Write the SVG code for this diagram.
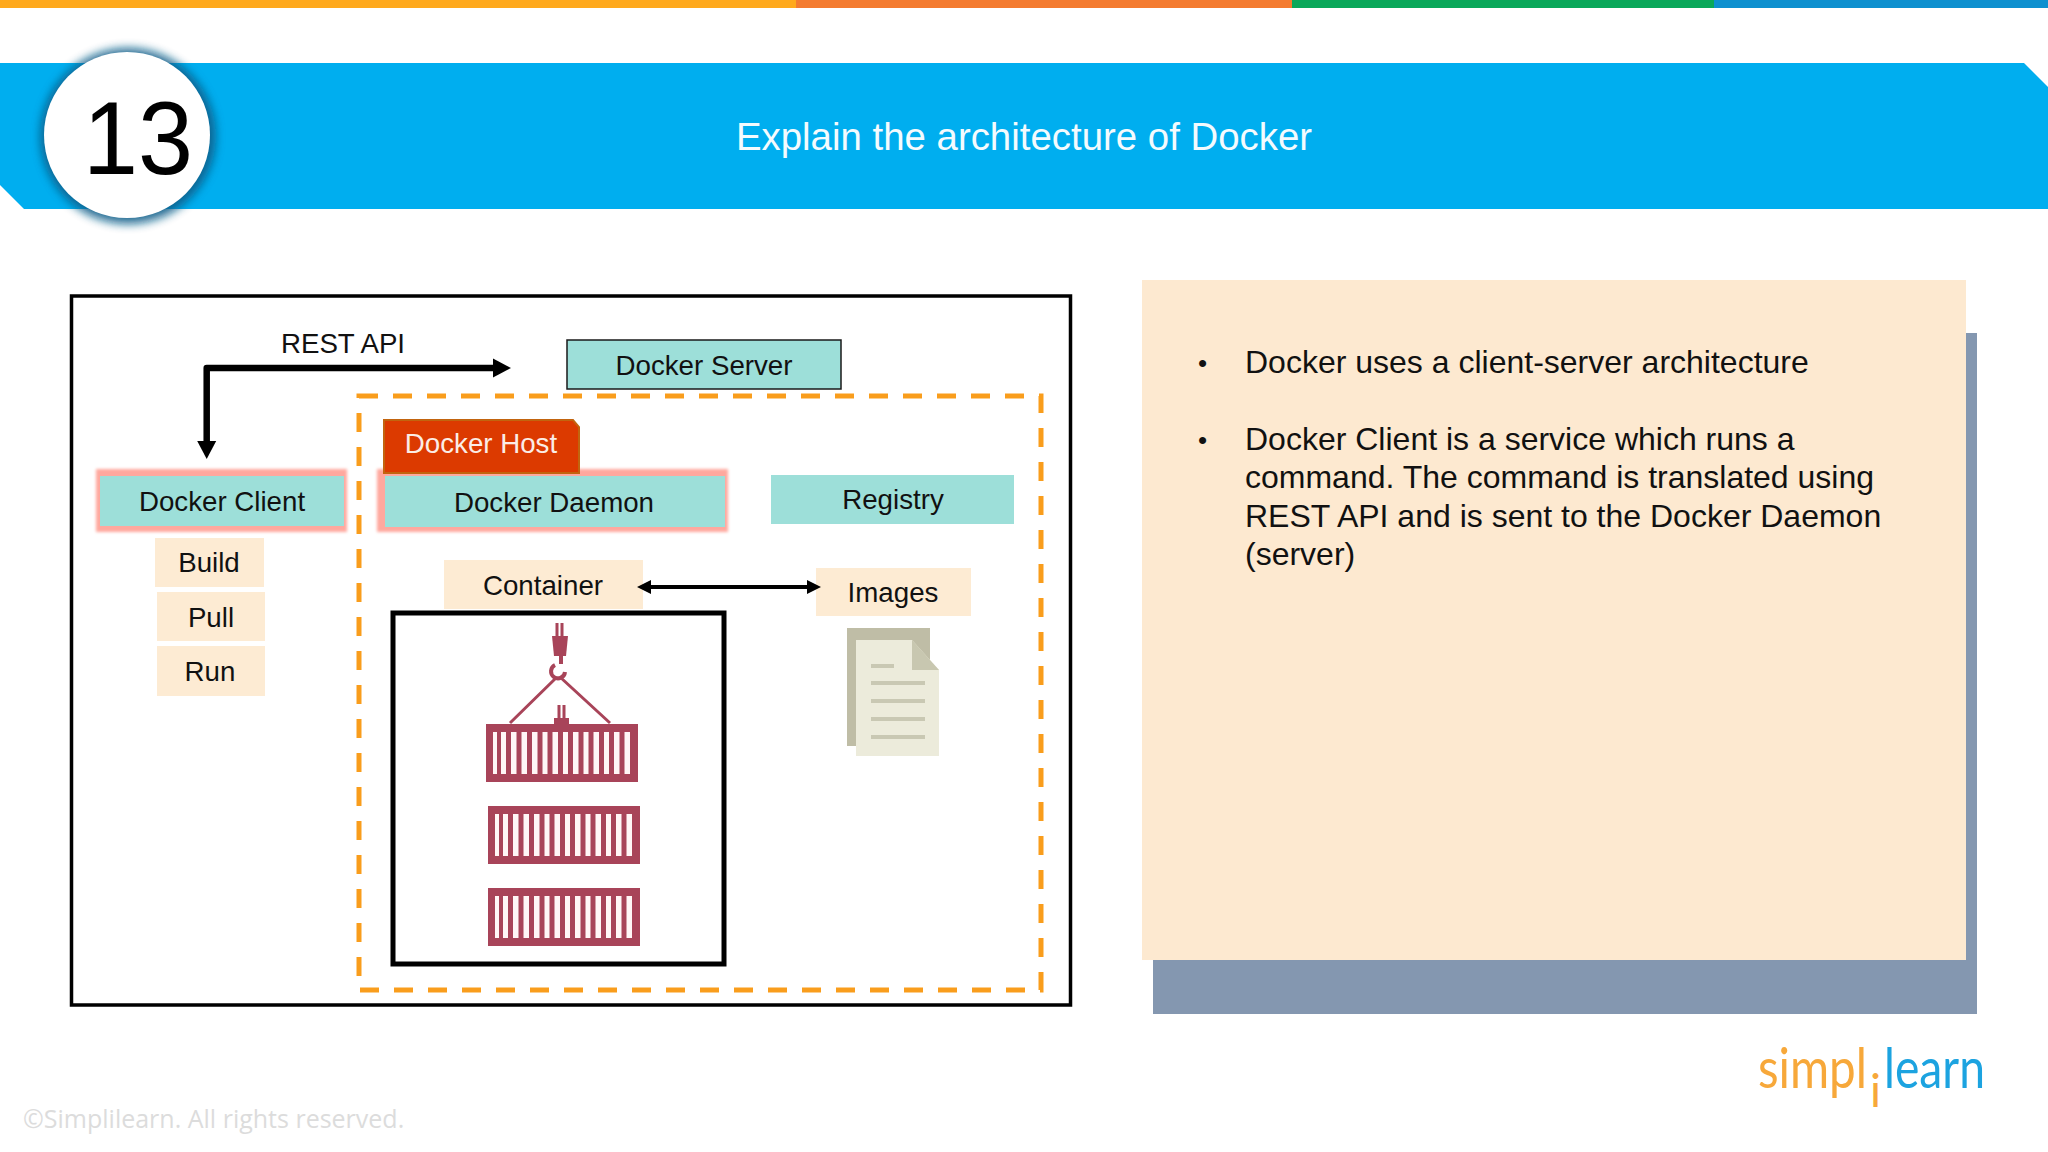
<svg xmlns="http://www.w3.org/2000/svg" xmlns:xlink="http://www.w3.org/1999/xlink" width="2048" height="1152" viewBox="0 0 2048 1152">
<style>
text{font-family:"Liberation Sans",Arial,sans-serif;fill:#111}
.c{text-anchor:middle}
.l{font-size:27.700px}
.b{font-size:32px}
.teal{fill:#9DDFD9}
.cream{fill:#FDEBD3}
.halo{fill:#FFA89E;filter:url(#soft)}
.crate{fill:#A84459}
.docl{stroke:#C9C8B3;stroke-width:4;fill:none}
.logo{font-family:"Lato","Open Sans",sans-serif;font-size:56px;font-weight:400}
</style>
<defs>
<filter id="soft" x="-10%" y="-20%" width="120%" height="140%"><feGaussianBlur stdDeviation="1.500"/></filter>
<filter id="shadow" x="-30%" y="-30%" width="160%" height="160%"><feGaussianBlur stdDeviation="5"/></filter>
<marker id="big" markerUnits="userSpaceOnUse" markerWidth="20" markerHeight="20" refX="10" refY="10" orient="auto-start-reverse"><path d="M0 0.500L18 10L0 19.500Z" fill="#000"/></marker>
<marker id="small" markerUnits="userSpaceOnUse" markerWidth="16" markerHeight="16" refX="9" refY="8" orient="auto-start-reverse"><path d="M0 1L14 8L0 15Z" fill="#000"/></marker>
<g id="crate">
<rect x="0" y="0" width="152" height="58" class="crate"/>
<path fill="#FFF6F6" d="M7 8h4v42h-4zM15 8h5v42h-5zM25 8h5.500v42h-5.500zM35.500 8h5.500v42h-5.500zM46 8h5.500v42h-5.500zM56.500 8h5v42h-5zM66.500 8h5.500v42h-5.500zM77 8h5v42h-5zM87 8h5.500v42h-5.500zM97.500 8h5v42h-5zM107.500 8h5.500v42h-5.500zM118 8h5v42h-5zM128 8h5.500v42h-5.500zM138.500 8h5.500v42h-5.500z"/>
</g>
</defs>
<rect width="2048" height="1152" fill="#FFFFFF"/>
<g id="top-bar">
<rect x="0" y="0" width="796" height="8" fill="#FFA91C"/>
<rect x="796" y="0" width="496" height="8" fill="#F47B30"/>
<rect x="1292" y="0" width="422" height="8" fill="#0AA85A"/>
<rect x="1714" y="0" width="334" height="8" fill="#0E90CF"/>
</g>
<g id="banner">
<path d="M0 63H2024L2048 87V209H24L0 185Z" fill="#00AEEF"/>
<text x="1024" y="150" class="c" font-size="38.400" style="fill:#F4FBFE">Explain the architecture of Docker</text>
</g>
<g id="badge">
<circle cx="128" cy="136" r="88" fill="#0B5F8A" opacity=".9" filter="url(#shadow)"/>
<circle cx="127" cy="135" r="83" fill="#FFFFFF"/>
<text transform="translate(83 174) scale(.96 1)" font-size="103" style="fill:#000">13</text>
</g>
<g id="diagram-frame"><rect x="71.500" y="296" width="999" height="709" fill="#fff" stroke="#000" stroke-width="3.500"/></g>
<g id="docker-host-boundary"><rect x="359" y="396" width="682" height="594" fill="none" stroke="#F99D1C" stroke-width="5" stroke-dasharray="19 15"/></g>
<g id="docker-server"><rect x="567" y="340" width="274" height="49" class="teal" stroke="#1A1A1A" stroke-width="1.500"/><text x="704" y="375" class="c l">Docker Server</text></g>
<g id="docker-client"><rect x="96" y="469" width="251" height="63" class="halo"/><rect x="100" y="476" width="244" height="50" class="teal"/><text x="222" y="511" class="c l">Docker Client</text></g>
<g id="docker-daemon"><rect x="377" y="469" width="351" height="63" class="halo"/><rect x="385" y="476" width="340" height="51" class="teal"/><text x="554" y="512" class="c l">Docker Daemon</text></g>
<g id="docker-host"><path d="M384 420H573L579 427V473H384Z" fill="#DC3A00" stroke="#C2640E" stroke-width="2"/><text x="481" y="453" class="c l" style="fill:#FBEDE6">Docker Host</text></g>
<g id="registry"><rect x="771" y="475" width="243" height="49" class="teal"/><text x="893" y="509" class="c l">Registry</text></g>
<g id="build"><rect x="155" y="538" width="109" height="49" class="cream"/><text x="209" y="572" class="c l">Build</text></g>
<g id="pull"><rect x="157" y="592" width="108" height="49" class="cream"/><text x="211" y="627" class="c l">Pull</text></g>
<g id="run"><rect x="157" y="646" width="108" height="50" class="cream"/><text x="210" y="681" class="c l">Run</text></g>
<g id="container"><rect x="444" y="560" width="199" height="49" class="cream"/><text x="543" y="595" class="c l">Container</text></g>
<g id="images"><rect x="816" y="568" width="155" height="48" class="cream"/><text x="893" y="602" class="c l">Images</text></g>
<g id="container-stack">
<rect x="393" y="613" width="331" height="351" fill="#fff" stroke="#000" stroke-width="5"/>
<path d="M557 623V636M562 623V636" stroke="#A84459" stroke-width="3" fill="none"/>
<path d="M552 636H568L566 656H554Z" class="crate"/>
<path d="M561 655V664M555 665A7 7 0 1 0 565 672" stroke="#A84459" stroke-width="4" fill="none"/>
<path d="M557 677L510 723M560 677L610 723" stroke="#A84459" stroke-width="3" fill="none"/>
<path d="M559 705V719M564 705V719" stroke="#A84459" stroke-width="3" fill="none"/>
<rect x="554" y="718" width="15" height="6" class="crate"/>
<use xlink:href="#crate" href="#crate" x="486" y="724"/>
<use xlink:href="#crate" href="#crate" x="488" y="806"/>
<use xlink:href="#crate" href="#crate" x="488" y="888"/>
</g>
<g id="image-document">
<rect x="847" y="628" width="83" height="118" fill="#BFBDA6"/>
<path d="M856 640H912L939 670V756H856Z" fill="#ECEBDB"/>
<path d="M912 640L939 670H912Z" fill="#C8C7B0"/>
<path d="M871 666H894M871 683H925M871 701H925M871 719H925M871 737H925" class="docl"/>
</g>
<g id="connectors">
<path d="M503 368H206.700V451" fill="none" stroke="#000" stroke-width="6.500" stroke-linejoin="round" marker-start="url(#big)" marker-end="url(#big)"/>
<path d="M642 587H816" fill="none" stroke="#000" stroke-width="4" marker-start="url(#small)" marker-end="url(#small)"/>
</g>
<g id="notes-panel">
<rect x="1153" y="333" width="824" height="681" fill="#8497B0"/>
<rect x="1142" y="280" width="824" height="680" fill="#FDE9D0"/>
<g class="b">
<text x="1198" y="372" font-size="26">•</text>
<text x="1245" y="373">Docker uses a client-server architecture</text>
<text x="1198" y="449" font-size="26">•</text>
<text x="1245" y="450">Docker Client is a service which runs a</text>
<text x="1245" y="488">command. The command is translated using</text>
<text x="1245" y="527">REST API and is sent to the Docker Daemon</text>
<text x="1245" y="565">(server)</text>
</g>
</g>
<g id="rest-api-label"><text x="343" y="353" class="c l">REST API</text></g>
<g id="footer"><text x="23" y="1128" font-size="25" style="font-family:'Open Sans',sans-serif;fill:#DCDCDC">©Simplilearn. All rights reserved.</text></g>
<g id="logo">
<text x="1758" y="1088" class="logo" textLength="109" lengthAdjust="spacingAndGlyphs" style="fill:#F7A83A">simpl</text>
<text x="1875.500" y="1107" class="logo c" style="font-size:46px;fill:#F7A83A">i</text>
<text x="1884" y="1088" class="logo" textLength="101" lengthAdjust="spacingAndGlyphs" style="fill:#1CA3E0">learn</text>
</g>
</svg>
